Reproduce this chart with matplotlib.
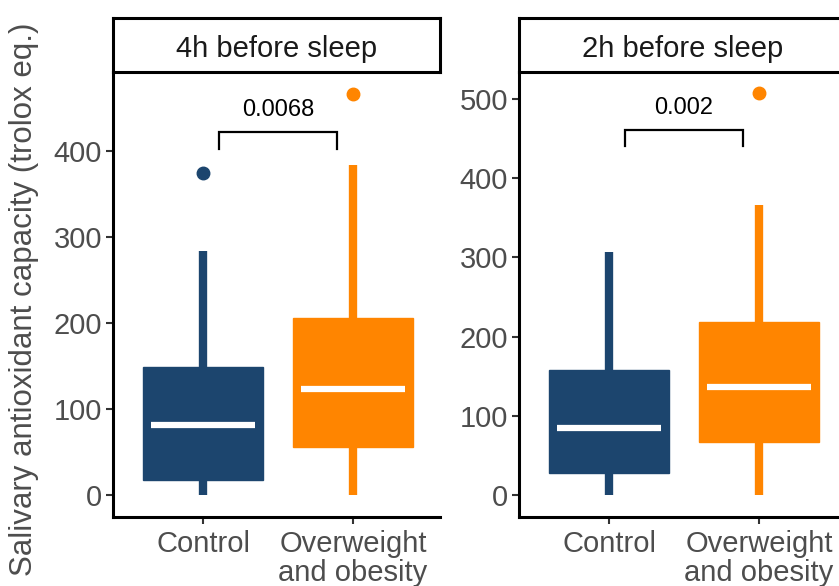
import matplotlib
matplotlib.use("Agg")
import matplotlib.pyplot as plt

plt.rcParams['font.family'] = ['Liberation Sans', 'DejaVu Sans']

panels = ["4h before sleep", "2h before sleep"]
groups = ["Control", "Overweight\nand obesity"]
colors = ["#1C456E", "#FF8500"]

# box stats per panel: [whislo, q1, med, q3, whishi]
control_4h = [0, 17, 81, 149, 284]
overweight_4h = [0, 56, 123, 206, 384]
control_2h = [0, 28, 85, 158, 307]
overweight_2h = [0, 67, 136, 218, 366]
outliers_4h = [[375], [466]]
outliers_2h = [[], [508]]
pvalues = ["0.0068", "0.002"]
bracket_y = [(403, 422), (441, 461)]
ylims = [(-25.6, 492), (-27.8, 534)]
yticks = [[0, 100, 200, 300, 400], [0, 100, 200, 300, 400, 500]]

stats_all = [[control_4h, overweight_4h], [control_2h, overweight_2h]]
outl_all = [outliers_4h, outliers_2h]

W, H = 839, 586
fig = plt.figure(figsize=(W / 100, H / 100), dpi=100)

ax_lefts = [113, 519]
ax_w = 327
top_px, bot_px, strip_top = 72, 517, 18
FS = 21

for i in range(2):
    l = ax_lefts[i] / W
    b = 1 - bot_px / H
    h = (bot_px - top_px) / H
    ax = fig.add_axes([l, b, ax_w / W, h])
    stats = []
    for j in range(2):
        s = stats_all[i][j]
        stats.append(dict(whislo=s[0], q1=s[1], med=s[2], q3=s[3], whishi=s[4],
                          fliers=outl_all[i][j], label=groups[j]))
    for j in range(2):
        c = colors[j]
        ax.bxp([stats[j]], positions=[j + 1], widths=0.8, patch_artist=True,
               showcaps=False,
               boxprops=dict(facecolor=c, edgecolor=c, linewidth=1),
               whiskerprops=dict(color=c, linewidth=6, solid_capstyle='butt'),
               medianprops=dict(linewidth=0),
               flierprops=dict(marker='o', markerfacecolor=c, markeredgecolor=c,
                               markersize=9, linestyle='none'),
               manage_ticks=False, zorder=2)
        ax.hlines(stats[j]['med'], j + 1 - 0.345, j + 1 + 0.345, colors='white',
                  linewidth=4.5, zorder=3)
    # bracket
    y0, y1 = bracket_y[i]
    x0, x1 = 1.107, 1.893
    ax.plot([x0, x0, x1, x1], [y0, y1, y1, y0], color='black', linewidth=1.6,
            solid_joinstyle='miter', zorder=4, clip_on=False)
    ax.text(1.5, y1 + (ylims[i][1] - ylims[i][0]) * 0.025, pvalues[i], ha='center',
            va='bottom', fontsize=17, color='black')

    ax.set_xlim(0.4, 2.58)
    ax.set_ylim(*ylims[i])
    ax.set_yticks(yticks[i])
    ax.set_xticks([1, 2])
    ax.set_xticklabels(groups, fontsize=FS, color='#4D4D4D', linespacing=1.05)
    ax.tick_params(axis='y', labelsize=FS, labelcolor='#4D4D4D', length=5,
                   width=1.5, color='#333333', pad=3)
    ax.tick_params(axis='x', length=5, width=1.5, color='#333333', pad=4)
    for sp in ['top', 'right']:
        ax.spines[sp].set_visible(False)
    for sp in ['left', 'bottom']:
        ax.spines[sp].set_linewidth(2.2)
        ax.spines[sp].set_color('black')

    # strip
    sax = fig.add_axes([l, 1 - top_px / H, ax_w / W, (top_px - strip_top) / H])
    sax.set_xticks([]); sax.set_yticks([])
    for sp in sax.spines.values():
        sp.set_linewidth(2.2)
        sp.set_color('black')
    sax.text(0.5, 0.42, panels[i], ha='center', va='center', fontsize=FS,
             color='#1A1A1A', transform=sax.transAxes)

fig.text(24 / W, 1 - 299 / H, "Salivary antioxidant capacity (trolox eq.)",
         rotation=90, ha='center', va='center', fontsize=22.5, color='#4D4D4D')

fig.savefig("out.png", dpi=100)
